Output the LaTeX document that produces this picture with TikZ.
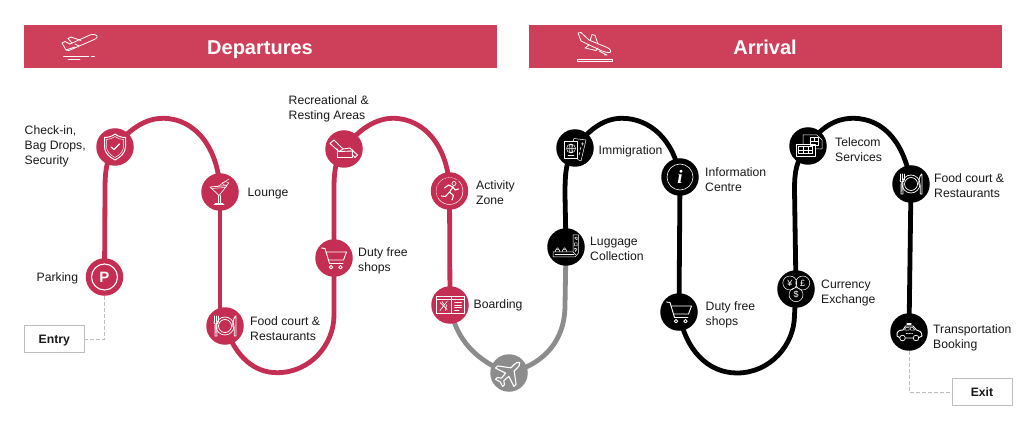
\documentclass[tikz,border=0pt]{standalone}
\usepackage{fontspec}
\setmainfont{Liberation Sans}
\newfontfamily\serifglyph{Liberation Serif}
\usetikzlibrary{backgrounds}
\definecolor{bannerred}{RGB}{206,63,90}
\definecolor{stopred}{RGB}{196,46,82}
\definecolor{routegray}{RGB}{140,140,140}
\definecolor{boxgray}{RGB}{190,190,190}
\definecolor{labelink}{RGB}{25,25,25}
\tikzset{
  banner/.style={fill=bannerred,draw=none,inner sep=0pt,minimum width=473pt,minimum height=43pt},
  stop/.style={circle,inner sep=0pt,minimum size=37.5pt,text=white},
  redstop/.style={stop,fill=stopred},
  blackstop/.style={stop,fill=black},
  graystop/.style={stop,fill=routegray},
  route/.style={line width=4.8pt,line cap=round},
  redroute/.style={route,draw=stopred},
  blackroute/.style={route,draw=black},
  grayroute/.style={route,draw=routegray},
  lab/.style={anchor=west,inner sep=0pt,align=left,text=labelink,yshift=-1.1pt,font=\fontsize{12.2}{15}\selectfont},
  endbox/.style={draw=boxgray,line width=0.9pt,fill=white,minimum width=60pt,minimum height=27pt,inner sep=0pt,text height=9pt,text depth=0pt,text=labelink,font=\fontsize{12.2}{15}\selectfont\bfseries},
  dashlink/.style={draw=boxgray,line width=0.9pt,dash pattern=on 4pt off 2pt},
  ico/.style={draw=white,line width=0.7pt,line join=round,line cap=round,fill=none},
  thinico/.style={ico,line width=0.5pt},
  glyph/.style={inner sep=0pt,text=white},
  shieldicon/.pic={
    \draw[ico,line width=1pt] (0,-13) .. controls (-3,-10.5) and (-7,-9.5) .. (-10.5,-9.5) -- (-10.5,0) .. controls (-10.5,6) and (-5,10.5) .. (0,13) .. controls (5,10.5) and (10.5,6) .. (10.5,0) -- (10.5,-9.5) .. controls (7,-9.5) and (3,-10.5) .. (0,-13) -- cycle;
    \draw[thinico] (0,-10.5) .. controls (-2.5,-8.5) and (-5.5,-7.5) .. (-8.5,-7.5) -- (-8.5,0) .. controls (-8.5,4.5) and (-4,8.5) .. (0,10.5) .. controls (4,8.5) and (8.5,4.5) .. (8.5,0) -- (8.5,-7.5) .. controls (5.5,-7.5) and (2.5,-8.5) .. (0,-10.5) -- cycle;
    \draw[ico,line width=1.2pt] (-4,0) -- (-1,2.5) -- (4.5,-3);
  },
  martiniicon/.pic={
    \draw[ico] (-10,-5) -- (7,-6.5) -- (-1,3.5) -- cycle;
    \draw[thinico] (-8,-3.5) -- (5,-4.5);
    \draw[thinico] (-2,3.5) -- (-2,11) (0,3.5) -- (0,11);
    \draw[ico] (-6,12) -- (4,12) (-5,11) -- (3,11);
    \draw[thinico] (-3,-5) -- (9,-13);
    \draw[thinico] (2,-9) .. controls (4,-6) and (7,-6) .. (9,-9) .. controls (7,-11) and (4,-11) .. (2,-9);
  },
  carticon/.pic={
    \draw[ico,line width=0.9pt] (-12.5,-10) -- (-9,-9.5) -- (-4.5,5.5) -- (9,5.5);
    \draw[ico,line width=0.9pt] (-8,-6) -- (12.5,-6) -- (9.5,2) -- (-5.5,2);
    \draw[ico,line width=0.9pt] (-3,9.2) circle (1.7) (6.5,9.2) circle (1.7);
  },
  plateicon/.pic={
    \draw[ico] (0,0) circle (9) (0,0) circle (6.5);
    \draw[ico,line width=0.9pt] (-11,-10) -- (-11,-4) (-9,-10) -- (-9,-4) (-7,-10) -- (-7,-4);
    \draw[ico,line width=0.9pt] (-11,-4) .. controls (-11,-1) and (-7,-1) .. (-7,-4);
    \draw[ico,line width=0.9pt] (-9.8,-1) -- (-10,10) -- (-8,10) -- (-8.2,-1);
    \draw[ico,line width=0.9pt] (10.5,-10) .. controls (8,-7) and (7.5,-3) .. (8,1) -- (9.2,1) -- (9.2,10) -- (11,10) -- (11,-10) -- cycle;
  },
  chairicon/.pic={
    \draw[ico,line width=0.9pt] (-14,-5.5) -- (-10,-9) -- (-1,0) -- (-5,2.5) -- cycle;
    \draw[ico,line width=0.9pt] (-7,0) -- (-7,8) -- (8,8) -- (8,1);
    \draw[ico,line width=0.9pt] (-5,2.5) -- (9,2);
    \draw[ico,line width=0.9pt] (-1,0) -- (6,-1) -- (13.5,6) -- (11,8.5) -- (8,5);
  },
  runnericon/.pic={
    \draw[thinico,densely dotted] (0,0) ++(155:13.5) arc (155:305:13.5);
    \draw[thinico] (0,0) ++(312:13.5) arc (312:510:13.5);
    \draw[ico] (4.5,-7.5) circle (2);
    \draw[ico,line width=1.1pt] (-5,-3) -- (-1,-6) -- (3.5,-4) -- (0,1) -- (4,4.5) -- (2.5,9);
    \draw[ico,line width=1.1pt] (3.5,-4) -- (5.5,-1) -- (9,-2);
    \draw[ico,line width=1.1pt] (0,1) -- (-4,5.5) -- (-8,5);
  },
  passicon/.pic={
    \draw[thinico] (-13.5,-8.5) rectangle (14,8.5);
    \draw[thinico] (-13.5,-5.5) -- (14,-5.5);
    \draw[thinico] (1,-8.5) -- (1,8.5);
    \draw[thinico] (4.5,-2.5) -- (11.5,-2.5) (4.5,0) -- (11.5,0) (4.5,2.5) -- (11.5,2.5) (4.5,5) -- (9,5);
    \draw[ico] (-10,5.5) -- (-3,-3.5) (-10,-2.5) -- (-3,4.5) (-8,-3.5) -- (-6,-.5) (-3.5,0) -- (-4.5,5.5);
  },
  planeicon/.pic={
    \draw[ico,line width=1.1pt,rotate=-45] (0,-15) .. controls (1.6,-14) and (2.3,-12) .. (2.3,-10) -- (2.3,-5) -- (13,3) -- (13,6) -- (2.3,2.5) -- (1.7,9) -- (5,11.5) -- (5,14) -- (0,12.5) -- (-5,14) -- (-5,11.5) -- (-1.7,9) -- (-2.3,2.5) -- (-13,6) -- (-13,3) -- (-2.3,-5) -- (-2.3,-10) .. controls (-2.3,-12) and (-1.6,-14) .. (0,-15) -- cycle;
  },
  passporticon/.pic={
    \draw[thinico] (-2,-6.5) -- (-1,-9.5) -- (11,-8) -- (6,13) -- (2.5,11.5);
    \draw[ico] (-10.5,-6.5) rectangle (2.5,10);
    \draw[thinico] (-4,.5) circle (4.5) (-8.5,.5) -- (.5,.5) (-4,-4) -- (-4,5);
    \draw[thinico] (-4,.5) ellipse (2 and 4.5);
    \draw[thinico] (-7,7.5) -- (-1,7.5);
    \draw[thinico] (6,-4) -- (9,-4) (7.5,-5.5) -- (7.5,-2.5) (5,2) -- (6,-1) (4,7) -- (5,4);
  },
  luggageicon/.pic={
    \draw[thinico] (7,-12) -- (7,5) -- (-13,5) -- (-13,10) -- (9,10) -- (12.5,6) -- (12.5,-12) -- cycle;
    \draw[thinico] (7,5) -- (10,8);
    \draw[thinico] (8.5,-9) -- (11,-10) -- (11,-7) -- cycle (8.5,-4) -- (11,-4) -- (11,-1) -- (8.5,-1) -- cycle;
    \draw[thinico] (8.5,1) -- (11,2) -- (9.5,4.5) -- cycle;
    \draw[thinico] (-11,5) -- (-10,2.5) -- (-7,2.5) -- (-6,5) (-4,5) -- (-3,2.5) -- (0,2.5) -- (1,5);
    \draw[thinico] (-9.5,2.5) -- (-9,1) -- (-8,1) -- (-7.5,2.5) (-2.5,2.5) -- (-2,1) -- (-1,1) -- (-.5,2.5);
    \draw[thinico] (-11,7.5) -- (8,7.5);
  },
  currencyicon/.pic={
    \draw[thinico] (-6.2,-6) circle (7) (6.7,-6) circle (7) (0,5.7) circle (7);
    \node[glyph,font=\fontsize{9}{9}\selectfont] (yen) at (-6.2,-6) {¥};
    \node[glyph,font=\fontsize{9}{9}\selectfont] (pound) at (6.7,-6) {£};
    \node[glyph,font=\fontsize{9}{9}\selectfont] (dollar) at (0,5.7) {\$};
  },
  simicon/.pic={
    \draw[thinico] (-5,-2) -- (-5,-11) -- (9,-11) -- (14,-6) -- (14,3) -- (7,3);
    \draw[ico] (-12,-2) rectangle (7,10);
    \draw[thinico] (-9.5,.5) rectangle (4.5,7.5) (-9.5,4) -- (4.5,4) (-5,.5) -- (-5,7.5) (0,.5) -- (0,7.5);
    \draw[thinico] (2,-8.5) rectangle (10,-.5) (6,-8.5) -- (6,-4.5) (2,-4.5) -- (10,-4.5);
  },
  taxiicon/.pic={
    \draw[ico,line width=0.9pt] (-12,4) .. controls (-13,-1) and (-9,-2) .. (-6,-2) -- (-3.5,-6) -- (4,-6) -- (7.5,-2) .. controls (10,-2) and (13,0) .. (13,4) -- (10,5.5) (4,6) -- (-3.5,6) (-9.5,5.5) -- (-12,4);
    \draw[ico] (-6.5,6) circle (2.8) (7,6) circle (2.8);
    \draw[thinico] (-3,-4.7) -- (0,-4.7) -- (0,-2) -- (-4.5,-2) -- cycle (1.5,-4.7) -- (3.5,-4.7) -- (5.7,-2) -- (1.5,-2) -- cycle;
    \draw[ico,line width=1.1pt] (-2,-8) -- (2,-8);
    \draw[thinico,densely dotted] (-3,1.5) -- (4,1.5);
  },
}
\begin{document}
\begin{tikzpicture}[x=1pt,y=-1pt]
\useasboundingbox (0,0) rectangle (1024,427);
% banners
\node[banner] (depbar) at (260.5,47) {};
\node[banner] (arrbar) at (765.5,47) {};
\node[glyph,anchor=base,font=\fontsize{20}{24}\selectfont\bfseries] (deptitle) at (260,54.5) {Departures};
\node[glyph,anchor=base,font=\fontsize{20}{24}\selectfont\bfseries] (arrtitle) at (765,54.5) {Arrival};
% take-off icon
\draw[ico,line width=0.8pt] (62,43) -- (65,41.5) -- (70,44) -- (90,35) .. controls (94,33.5) and (98,35) .. (97,37.5) .. controls (96,39) and (94,39.5) .. (92,40.5) -- (69,50.5) -- (66,50) -- cycle;
\draw[ico,line width=0.8pt] (72,43) -- (68,38.5) -- (71,37) -- (81,40.5) (75,47) -- (66,50);
\draw[ico,line width=0.8pt] (75,44) -- (79,46);
\draw[ico] (63.5,56) -- (89,56) (91.5,56) -- (94.5,56) (68,59.3) -- (80,59.3);
% landing icon
\draw[ico,line width=0.8pt] (578,33) -- (581,32.5) -- (589,40) -- (606,47) .. controls (610,48.5) and (612,51.5) .. (610,52.5) .. controls (608,53) and (605,52) .. (602,51) -- (581,41) -- cycle;
\draw[ico,line width=0.8pt] (590,41) -- (592,34.5) -- (595,35.5) -- (598,44) (589,45) -- (585,48) -- (596,50.5) -- (598,48);
\draw[ico] (599,51) -- (607,55) (607,55) -- (604.5,55);
\draw[ico] (577,59) rectangle (612,61.7);
% stops
\node[redstop] (parking) at (104.5,277) {};
\draw[ico,line width=1.1pt] (parking.center) circle (13);
\node[glyph,font=\fontsize{15}{15}\selectfont\bfseries] (parkp) at (104.5,277.5) {P};
\node[redstop] (checkin) at (115,147) {};
\node[redstop] (lounge) at (220,192) {};
\node[redstop] (foodred) at (225,326) {};
\node[redstop] (dutyred) at (334,258) {};
\node[redstop] (rest) at (344,149) {};
\node[redstop] (activity) at (449.5,191) {};
\node[redstop] (boarding) at (450,305) {};
\node[graystop] (flight) at (509,373) {};
\node[blackstop] (baggage) at (566,247) {};
\node[blackstop] (immig) at (575,148) {};
\node[blackstop] (info) at (680,177) {};
\draw[ico,line width=0.6pt] (info.center) circle (13);
\node[glyph,font=\fontsize{19}{19}\serifglyph\bfseries\itshape] (infoi) at (680,177) {i};
\node[blackstop] (dutyblack) at (679,312) {};
\node[blackstop] (money) at (796,289) {};
\node[blackstop] (telecom) at (808,146) {};
\node[blackstop] (foodblack) at (911,184) {};
\node[blackstop] (transport) at (909,332) {};
% routes
\begin{scope}[on background layer]
\draw[redroute] (parking.center) -- (105,190) .. controls (105,172) and (106,160) .. (checkin.center);
\draw[redroute] (checkin.center) .. controls (132,126) and (148,118.3) .. (163,118.3) .. controls (195,118.3) and (219,148) .. (lounge.center);
\draw[redroute] (lounge.center) -- (220,326) -- (foodred.center);
\draw[redroute] (foodred.center) .. controls (236,358) and (255,372.7) .. (277,372.7) .. controls (310,372.7) and (334,345) .. (334,315) -- (dutyred.center);
\draw[redroute] (dutyred.center) -- (334,190) .. controls (334,172) and (335,160) .. (rest.center);
\draw[redroute] (rest.center) .. controls (360,127) and (378,118.3) .. (393,118.3) .. controls (425,118.3) and (449,148) .. (activity.center);
\draw[redroute] (activity.center) -- (boarding.center);
\draw[grayroute] (boarding.center) .. controls (455,340) and (478,362) .. (flight.center);
\draw[grayroute] (flight.center) .. controls (545,364) and (565,340) .. (565,305) -- (baggage.center);
\draw[blackroute] (baggage.center) -- (565,195) .. controls (565,172) and (566,160) .. (immig.center);
\draw[blackroute] (immig.center) .. controls (590,128) and (605,118.3) .. (622,118.3) .. controls (650,118.3) and (674,140) .. (info.center);
\draw[blackroute] (info.center) -- (dutyblack.center);
\draw[blackroute] (dutyblack.center) .. controls (685,350) and (708,373) .. (737,373) .. controls (770,373) and (794.5,345) .. (794.5,315) -- (money.center);
\draw[blackroute] (money.center) -- (794.5,190) .. controls (794.5,172) and (796,160) .. (telecom.center);
\draw[blackroute] (telecom.center) .. controls (820,128) and (835,118.3) .. (853,118.3) .. controls (885,118.3) and (905,145) .. (foodblack.center);
\draw[blackroute] (foodblack.center) -- (transport.center);
\end{scope}
% icons
\pic at (checkin.center) {shieldicon};
\pic at (lounge.center) {martiniicon};
\pic at (foodred.center) {plateicon};
\pic at (dutyred.center) {carticon};
\pic at (rest.center) {chairicon};
\pic at (activity.center) {runnericon};
\pic at (boarding.center) {passicon};
\pic at (flight.center) {planeicon};
\pic at (baggage.center) {luggageicon};
\pic at (immig.center) {passporticon};
\pic at (dutyblack.center) {carticon};
\pic at (money.center) {currencyicon};
\pic at (telecom.center) {simicon};
\pic at (foodblack.center) {plateicon};
\pic at (transport.center) {taxiicon};
% labels
\node[lab] (lcheckin) at (24.5,145) {Check-in,\\Bag Drops,\\Security};
\node[lab] (llounge) at (247.5,192) {Lounge};
\node[lab] (lparking) at (36.5,277) {Parking};
\node[lab] (lfoodred) at (250,327.5) {Food court \&\\Restaurants};
\node[lab] (ldutyred) at (358,259.5) {Duty free\\shops};
\node[lab] (lrest) at (288.5,108) {Recreational \&\\Resting Areas};
\node[lab] (lactivity) at (476,191.5) {Activity\\Zone};
\node[lab] (lboarding) at (473.5,304.5) {Boarding};
\node[lab] (lbaggage) at (590,248) {Luggage\\Collection};
\node[lab] (limmig) at (598.5,150) {Immigration};
\node[lab] (linfo) at (705,179) {Information\\Centre};
\node[lab] (ldutyblack) at (705.5,314) {Duty free\\shops};
\node[lab] (lmoney) at (821,291.5) {Currency\\Exchange};
\node[lab] (ltelecom) at (835,149) {Telecom\\Services};
\node[lab] (lfoodblack) at (934,184.5) {Food court \&\\Restaurants};
\node[lab] (ltransport) at (933,337) {Transportation\\Booking};
% entry and exit
\node[endbox] (entry) at (54.3,339) {Entry};
\node[endbox] (exit) at (982,392) {Exit};
\draw[dashlink] (parking.south) |- (entry.east);
\draw[dashlink] (transport.south) |- (exit.west);
\end{tikzpicture}
\end{document}
